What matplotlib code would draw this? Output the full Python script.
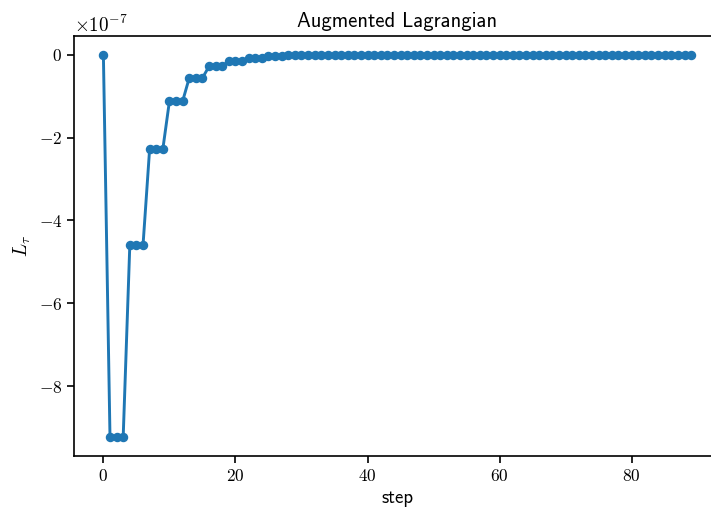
import matplotlib
matplotlib.use("Agg")
import matplotlib.pyplot as plt

plt.rcParams['font.family'] = 'serif'
plt.rcParams['font.serif'] = ['cmr10']
plt.rcParams['mathtext.fontset'] = 'cm'
plt.rcParams['axes.formatter.use_mathtext'] = True
plt.rcParams['axes.unicode_minus'] = True

steps = list(range(90))
# values in units of 1e-7
values_e7 = [
    0.0,
    -9.22, -9.22, -9.22,
    -4.60, -4.60, -4.60,
    -2.28, -2.28, -2.28,
    -1.12, -1.12, -1.12,
    -0.56, -0.56, -0.56,
    -0.28, -0.28, -0.28,
    -0.14, -0.14, -0.14,
    -0.07, -0.07, -0.07,
    -0.035, -0.035, -0.035,
    -0.017, -0.017, -0.017,
    -0.0085, -0.0085, -0.0085,
    -0.0043, -0.0043, -0.0043,
    -0.0021, -0.0021, -0.0021,
    -0.0011, -0.0011, -0.0011,
    -0.0005, -0.0005, -0.0005,
    -0.0003, -0.0003, -0.0003,
    -0.0001, -0.0001, -0.0001,
    -0.0001, -0.0001, -0.0001,
    0.0, 0.0, 0.0, 0.0, 0.0, 0.0, 0.0, 0.0, 0.0, 0.0,
    0.0, 0.0, 0.0, 0.0, 0.0, 0.0, 0.0, 0.0, 0.0, 0.0,
    0.0, 0.0, 0.0, 0.0, 0.0, 0.0, 0.0, 0.0, 0.0, 0.0,
    0.0, 0.0, 0.0, 0.0, 0.0,
]
values = [v * 1e-7 for v in values_e7]

fig = plt.figure(figsize=(7.11, 5.11), dpi=100)
W, H = 711, 511
left, right, top, bottom = 74, 720.5, 35.7, 455.7
ax = fig.add_axes([left / W, (H - bottom) / H, (right - left) / W, (bottom - top) / H])

ax.plot(steps, values, color='#1f77b4', lw=2.1, marker='o', markersize=5.8)

fs = 12.5
ax.set_title('Augmented Lagrangian', fontfamily='cmss10', fontsize=14.9)
ax.set_xlabel('step', fontfamily='cmss10', fontsize=13.5)
ax.set_ylabel(r'$L_\tau$', fontsize=14)
ax.tick_params(labelsize=fs, width=1.2, length=5)
ax.yaxis.get_offset_text().set_fontsize(13.8)
ax.spines['right'].set_visible(False)
for s in ax.spines.values():
    s.set_linewidth(1.2)

fig.savefig('out.png', dpi=100)
